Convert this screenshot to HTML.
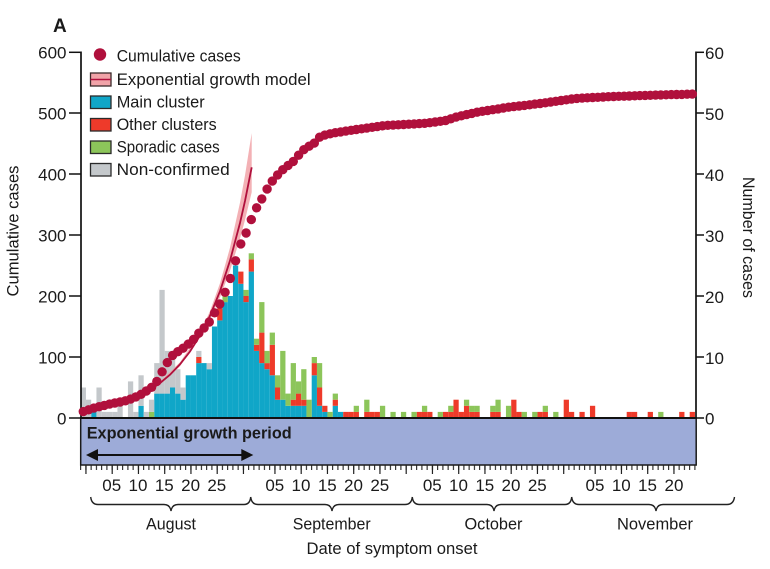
<!DOCTYPE html>
<html>
<head>
<meta charset="utf-8">
<style>
html,body{margin:0;padding:0;background:#fff;}
svg{display:block;}
text{font-family:"Liberation Sans",Arial,sans-serif;fill:#1a1a1a;}
</style>
</head>
<body>
<svg width="770" height="569" viewBox="0 0 770 569" xmlns="http://www.w3.org/2000/svg">
<defs>
<pattern id="tk" x="80.1" y="0" width="5.25" height="20" patternUnits="userSpaceOnUse">
<rect x="0" y="0" width="1.1" height="20" fill="#222"/>
</pattern>
</defs>
<rect width="770" height="569" fill="#fff"/>

<!-- bars -->
<g transform="translate(80.7,418) scale(5.25,-6.1)">
<g fill="#10a6c8">
<rect x="2" y="0" width="1" height="1"/><rect x="11" y="0" width="1" height="2"/>
<rect x="14" y="0" width="1" height="4"/><rect x="15" y="0" width="1" height="4"/>
<rect x="16" y="0" width="1" height="4"/><rect x="17" y="0" width="1" height="5"/>
<rect x="18" y="0" width="1" height="4"/><rect x="19" y="0" width="1" height="3"/>
<rect x="20" y="0" width="1" height="7"/><rect x="21" y="0" width="1" height="7"/>
<rect x="22" y="0" width="1" height="9"/><rect x="23" y="0" width="1" height="9"/>
<rect x="24" y="0" width="1" height="8"/><rect x="25" y="0" width="1" height="15"/>
<rect x="26" y="0" width="1" height="16"/><rect x="27" y="0" width="1" height="19"/>
<rect x="28" y="0" width="1" height="20"/><rect x="29" y="0" width="1" height="25"/>
<rect x="30" y="0" width="1" height="22"/><rect x="31" y="0" width="1" height="19"/>
<rect x="32" y="0" width="1" height="24"/><rect x="33" y="0" width="1" height="11"/>
<rect x="34" y="0" width="1" height="9"/><rect x="35" y="0" width="1" height="8"/>
<rect x="36" y="0" width="1" height="7"/><rect x="37" y="0" width="1" height="3"/>
<rect x="38" y="0" width="1" height="3"/><rect x="39" y="0" width="1" height="2"/>
<rect x="40" y="0" width="1" height="2"/><rect x="41" y="0" width="1" height="2"/>
<rect x="42" y="0" width="1" height="2"/><rect x="44" y="0" width="1" height="7"/>
<rect x="45" y="0" width="1" height="2"/><rect x="46" y="0" width="1" height="1"/>
<rect x="48" y="0" width="1" height="2"/><rect x="49" y="0" width="1" height="1"/>
</g>
<g fill="#ee3a2a">
<rect x="22" y="9" width="1" height="1"/><rect x="26" y="16" width="1" height="2"/>
<rect x="30" y="22" width="1" height="2"/><rect x="31" y="19" width="1" height="1"/>
<rect x="32" y="24" width="1" height="2"/><rect x="33" y="11" width="1" height="1"/>
<rect x="34" y="9" width="1" height="5"/><rect x="35" y="8" width="1" height="1"/>
<rect x="36" y="7" width="1" height="5"/><rect x="37" y="3" width="1" height="2"/>
<rect x="40" y="2" width="1" height="1"/><rect x="41" y="2" width="1" height="2"/>
<rect x="42" y="2" width="1" height="1"/><rect x="44" y="7" width="1" height="2"/>
<rect x="45" y="2" width="1" height="3"/><rect x="46" y="1" width="1" height="1"/>
<rect x="48" y="2" width="1" height="1"/><rect x="50" y="0" width="1" height="1"/>
<rect x="51" y="0" width="1" height="1"/><rect x="52" y="0" width="1" height="1"/>
<rect x="54" y="0" width="1" height="1"/><rect x="55" y="0" width="1" height="1"/>
<rect x="56" y="0" width="1" height="1"/><rect x="64" y="0" width="1" height="1"/>
<rect x="65" y="0" width="1" height="1"/><rect x="66" y="0" width="1" height="1"/>
<rect x="69" y="0" width="1" height="1"/><rect x="70" y="0" width="1" height="1"/>
<rect x="71" y="0" width="1" height="3"/><rect x="72" y="0" width="1" height="1"/>
<rect x="73" y="0" width="1" height="2"/><rect x="74" y="0" width="1" height="1"/>
<rect x="75" y="0" width="1" height="1"/><rect x="78" y="0" width="1" height="1"/>
<rect x="79" y="0" width="1" height="1"/><rect x="82" y="0" width="1" height="3"/>
<rect x="83" y="0" width="1" height="1"/><rect x="87" y="0" width="1" height="1"/>
<rect x="88" y="0" width="1" height="1"/><rect x="92" y="0" width="1" height="3"/>
<rect x="93" y="0" width="1" height="1"/><rect x="95" y="0" width="1" height="1"/>
<rect x="97" y="0" width="1" height="2"/><rect x="104" y="0" width="1" height="1"/>
<rect x="105" y="0" width="1" height="1"/><rect x="108" y="0" width="1" height="1"/>
<rect x="114" y="0" width="1" height="1"/><rect x="116" y="0" width="1" height="1"/>
</g>
<g fill="#8cc55a">
<rect x="13" y="0" width="1" height="1"/><rect x="26" y="18" width="1" height="1"/>
<rect x="27" y="19" width="1" height="1"/><rect x="31" y="20" width="1" height="1"/>
<rect x="32" y="26" width="1" height="1"/><rect x="33" y="12" width="1" height="1"/>
<rect x="34" y="14" width="1" height="5"/><rect x="35" y="9" width="1" height="2"/>
<rect x="36" y="12" width="1" height="2"/><rect x="37" y="5" width="1" height="2"/>
<rect x="38" y="3" width="1" height="8"/><rect x="39" y="2" width="1" height="2"/>
<rect x="40" y="3" width="1" height="6"/><rect x="41" y="4" width="1" height="2"/>
<rect x="42" y="3" width="1" height="5"/><rect x="43" y="0" width="1" height="3"/>
<rect x="44" y="9" width="1" height="1"/><rect x="45" y="5" width="1" height="4"/>
<rect x="47" y="0" width="1" height="1"/><rect x="48" y="3" width="1" height="1"/>
<rect x="52" y="1" width="1" height="1"/><rect x="54" y="1" width="1" height="2"/>
<rect x="57" y="0" width="1" height="2"/><rect x="59" y="0" width="1" height="1"/>
<rect x="61" y="0" width="1" height="1"/><rect x="63" y="0" width="1" height="1"/>
<rect x="65" y="1" width="1" height="1"/><rect x="68" y="0" width="1" height="1"/>
<rect x="70" y="1" width="1" height="1"/><rect x="73" y="2" width="1" height="1"/>
<rect x="74" y="1" width="1" height="1"/><rect x="75" y="1" width="1" height="1"/>
<rect x="78" y="1" width="1" height="1"/><rect x="79" y="1" width="1" height="2"/>
<rect x="81" y="0" width="1" height="2"/><rect x="84" y="0" width="1" height="1"/>
<rect x="86" y="0" width="1" height="1"/><rect x="88" y="1" width="1" height="1"/>
<rect x="90" y="0" width="1" height="1"/><rect x="110" y="0" width="1" height="1"/>
</g>
<g fill="#c4c8cb">
<rect x="0" y="0" width="1" height="5"/><rect x="1" y="0" width="1" height="3"/>
<rect x="2" y="1" width="1" height="1"/><rect x="3" y="0" width="1" height="5"/>
<rect x="4" y="0" width="1" height="1"/><rect x="5" y="0" width="1" height="1"/>
<rect x="6" y="0" width="1" height="1"/><rect x="7" y="0" width="1" height="2"/>
<rect x="9" y="0" width="1" height="6"/><rect x="10" y="0" width="1" height="1"/>
<rect x="11" y="2" width="1" height="5"/><rect x="12" y="0" width="1" height="1"/>
<rect x="13" y="1" width="1" height="2"/><rect x="14" y="4" width="1" height="5"/>
<rect x="15" y="4" width="1" height="17"/><rect x="16" y="4" width="1" height="7"/>
<rect x="17" y="5" width="1" height="6"/><rect x="18" y="4" width="1" height="4"/>
<rect x="19" y="3" width="1" height="2"/><rect x="22" y="10" width="1" height="1"/>
<rect x="24" y="8" width="1" height="1"/>
</g>
</g>

<!-- exponential band and line -->
<polygon fill="#f1a3a8" fill-opacity="0.85" points="80,410.3 100,406.9 120,401.7 140,393.8 160,381.6 180,362.2 200,332.9 210,311.1 220,283.3 230,247.8 240,202.6 245,175.4 251.7,133.1 251.7,192.3 245,220.0 240,238.5 230,270.7 220,297.4 210,319.4 200,337.5 180,366.3 160,384.6 140,396.8 120,404.7 100,409.9 80,413.3"/>
<polyline fill="none" stroke="#b0103c" stroke-width="1.8" points="80,411.8 90,410.3 100,408.4 110,406.1 120,403.2 130,399.7 140,395.3 150,389.8 160,383.1 170,374.7 180,364.3 190,351.5 200,335.5 210,315.7 220,291.2 230,260.7 240,223.0 245,200.9 251.7,167.3"/>

<!-- blue period box -->
<rect x="80.7" y="418" width="615.5" height="47" fill="#9dabd8" stroke="#1a1a1a" stroke-width="1.5"/>
<line x1="80" y1="418" x2="697" y2="418" stroke="#111" stroke-width="2"/>

<!-- axes -->
<line x1="81" y1="51.5" x2="81" y2="418" stroke="#111" stroke-width="1.7"/>
<line x1="696" y1="51.5" x2="696" y2="418" stroke="#111" stroke-width="1.7"/>
<g stroke="#111" stroke-width="1.5">
<line x1="69" y1="52.3" x2="81" y2="52.3"/><line x1="69" y1="113" x2="81" y2="113"/>
<line x1="69" y1="174" x2="81" y2="174"/><line x1="69" y1="235" x2="81" y2="235"/>
<line x1="69" y1="296" x2="81" y2="296"/><line x1="69" y1="357" x2="81" y2="357"/>
<line x1="69" y1="418" x2="81" y2="418"/>
<line x1="696" y1="52.3" x2="704" y2="52.3"/><line x1="696" y1="113" x2="704" y2="113"/>
<line x1="696" y1="174" x2="704" y2="174"/><line x1="696" y1="235" x2="704" y2="235"/>
<line x1="696" y1="296" x2="704" y2="296"/><line x1="696" y1="357" x2="704" y2="357"/>
<line x1="696" y1="418" x2="704" y2="418"/>
</g>
<g font-size="17" text-anchor="end">
<text x="66.5" y="58.5">600</text><text x="66.5" y="119.5">500</text>
<text x="66.5" y="180.5">400</text><text x="66.5" y="241.5">300</text>
<text x="66.5" y="302.5">200</text><text x="66.5" y="363.5">100</text>
<text x="66.5" y="424.5">0</text>
</g>
<g font-size="17">
<text x="705" y="59">60</text><text x="705" y="120">50</text>
<text x="705" y="181">40</text><text x="705" y="242">30</text>
<text x="705" y="303">20</text><text x="705" y="364">10</text>
<text x="705" y="424.5">0</text>
</g>
<text font-size="16.5" text-anchor="middle" transform="translate(18.3,231) rotate(-90)" textLength="131" lengthAdjust="spacingAndGlyphs">Cumulative cases</text>
<text font-size="16.5" text-anchor="middle" transform="translate(743,237.5) rotate(90)" textLength="121" lengthAdjust="spacingAndGlyphs">Number of cases</text>

<!-- bottom ticks -->
<rect x="80" y="465.5" width="616" height="4.5" fill="url(#tk)"/>
<path stroke="#222" stroke-width="1.2" fill="none" d="M85.95 465V474M112.2 465V474M138.45 465V474M164.7 465V474M190.95 465V474M217.2 465V474M243.45 465V474M274.95 465V474M301.2 465V474M327.45 465V474M353.7 465V474M379.95 465V474M406.2 465V474M432.45 465V474M458.7 465V474M484.95 465V474M511.2 465V474M537.45 465V474M563.7 465V474M595.2 465V474M621.45 465V474M647.7 465V474M673.95 465V474"/>
<g font-size="17" text-anchor="middle">
<text x="111.7" y="491">05</text><text x="138" y="491">10</text><text x="164.3" y="491">15</text><text x="190.6" y="491">20</text><text x="216.8" y="491">25</text>
<text x="274.8" y="491">05</text><text x="301" y="491">10</text><text x="327.3" y="491">15</text><text x="353.5" y="491">20</text><text x="379.8" y="491">25</text>
<text x="432.3" y="491">05</text><text x="458.5" y="491">10</text><text x="484.8" y="491">15</text><text x="511" y="491">20</text><text x="537.3" y="491">25</text>
<text x="595" y="491">05</text><text x="621.3" y="491">10</text><text x="647.5" y="491">15</text><text x="674" y="491">20</text>
</g>

<!-- braces -->
<g fill="none" stroke="#222" stroke-width="1.4">
<path d="M90.7 497 Q91.5 504.5 98 504.5 L164 504.5 Q170 504.5 171 511 Q172 504.5 178 504.5 L244 504.5 Q250 504.5 250.7 497"/>
<path d="M250.7 497 Q251.5 504.5 258 504.5 L325 504.5 Q331 504.5 332 511 Q333 504.5 339 504.5 L405 504.5 Q411.5 504.5 412.3 497"/>
<path d="M412.3 497 Q413 504.5 419.5 504.5 L487 504.5 Q493 504.5 494 511 Q495 504.5 501 504.5 L565 504.5 Q571 504.5 571.7 497"/>
<path d="M571.7 497 Q572.5 504.5 579 504.5 L649 504.5 Q655 504.5 656 511 Q657 504.5 663 504.5 L727 504.5 Q733.5 504.5 734.5 497"/>
</g>
<g font-size="16.5" text-anchor="middle">
<text x="171" y="529.5" textLength="50" lengthAdjust="spacingAndGlyphs">August</text>
<text x="331.7" y="529.5" textLength="78" lengthAdjust="spacingAndGlyphs">September</text>
<text x="493.5" y="529.5" textLength="58" lengthAdjust="spacingAndGlyphs">October</text>
<text x="655" y="529.5" textLength="76" lengthAdjust="spacingAndGlyphs">November</text>
<text x="392" y="554" textLength="171" lengthAdjust="spacingAndGlyphs">Date of symptom onset</text>
</g>

<!-- exponential growth period -->
<text x="86.7" y="438.3" font-size="17" font-weight="bold" textLength="205" lengthAdjust="spacingAndGlyphs">Exponential growth period</text>
<line x1="95" y1="455" x2="244" y2="455" stroke="#111" stroke-width="2"/>
<polygon points="86,455 98,449 98,461" fill="#111"/>
<polygon points="253.3,455 241.3,449 241.3,461" fill="#111"/>

<!-- cumulative dots -->
<g fill="#b0103c">
<circle cx="83.3" cy="411.6" r="4.7"/><circle cx="88.6" cy="409.8" r="4.7"/><circle cx="93.8" cy="408.1" r="4.7"/><circle cx="99.1" cy="406.7" r="4.7"/><circle cx="104.3" cy="405.4" r="4.7"/><circle cx="109.6" cy="404.1" r="4.7"/><circle cx="114.8" cy="403.0" r="4.7"/><circle cx="120.1" cy="402.0" r="4.7"/><circle cx="125.3" cy="400.8" r="4.7"/><circle cx="130.6" cy="399.1" r="4.7"/>
<circle cx="135.8" cy="396.9" r="4.7"/><circle cx="141.1" cy="394.3" r="4.7"/><circle cx="146.3" cy="391.0" r="4.7"/><circle cx="151.6" cy="387.3" r="4.7"/><circle cx="156.8" cy="381.4" r="4.7"/><circle cx="162.1" cy="371.8" r="4.7"/><circle cx="167.3" cy="362.6" r="4.7"/><circle cx="172.6" cy="355.4" r="4.7"/><circle cx="177.8" cy="351.7" r="4.7"/><circle cx="183.1" cy="348.2" r="4.7"/>
<circle cx="188.3" cy="344.1" r="4.7"/><circle cx="193.6" cy="339.3" r="4.7"/><circle cx="198.8" cy="333.2" r="4.7"/><circle cx="204.1" cy="327.9" r="4.7"/><circle cx="209.3" cy="322.0" r="4.7"/><circle cx="214.6" cy="312.8" r="4.7"/><circle cx="219.8" cy="304.0" r="4.7"/><circle cx="225.1" cy="292.3" r="4.7"/><circle cx="230.3" cy="278.4" r="4.7"/><circle cx="235.6" cy="260.8" r="4.7"/>
<circle cx="240.8" cy="243.9" r="4.7"/><circle cx="246.1" cy="233.0" r="4.7"/><circle cx="251.3" cy="219.6" r="4.7"/><circle cx="256.6" cy="207.8" r="4.7"/><circle cx="261.8" cy="198.9" r="4.7"/><circle cx="267.1" cy="189.1" r="4.7"/><circle cx="272.3" cy="181.1" r="4.7"/><circle cx="277.6" cy="174.9" r="4.7"/><circle cx="282.8" cy="169.7" r="4.7"/><circle cx="288.1" cy="165.4" r="4.7"/>
<circle cx="293.3" cy="161.4" r="4.7"/><circle cx="298.6" cy="155.2" r="4.7"/><circle cx="303.8" cy="149.7" r="4.7"/><circle cx="309.1" cy="146.2" r="4.7"/><circle cx="314.3" cy="143.1" r="4.7"/><circle cx="319.6" cy="137.2" r="4.7"/><circle cx="324.8" cy="135.1" r="4.7"/><circle cx="330.1" cy="133.8" r="4.7"/><circle cx="335.3" cy="132.7" r="4.7"/><circle cx="340.6" cy="131.9" r="4.7"/>
<circle cx="345.8" cy="131.1" r="4.7"/><circle cx="351.1" cy="130.3" r="4.7"/><circle cx="356.3" cy="129.5" r="4.7"/><circle cx="361.6" cy="128.8" r="4.7"/><circle cx="366.8" cy="128.1" r="4.7"/><circle cx="372.1" cy="127.3" r="4.7"/><circle cx="377.3" cy="126.6" r="4.7"/><circle cx="382.6" cy="125.8" r="4.7"/><circle cx="387.8" cy="125.3" r="4.7"/><circle cx="393.1" cy="125.1" r="4.7"/>
<circle cx="398.3" cy="124.8" r="4.7"/><circle cx="403.6" cy="124.5" r="4.7"/><circle cx="408.8" cy="124.2" r="4.7"/><circle cx="414.1" cy="123.9" r="4.7"/><circle cx="419.3" cy="123.6" r="4.7"/><circle cx="424.6" cy="123.3" r="4.7"/><circle cx="429.8" cy="122.7" r="4.7"/><circle cx="435.1" cy="122.0" r="4.7"/><circle cx="440.3" cy="121.3" r="4.7"/><circle cx="445.6" cy="120.5" r="4.7"/>
<circle cx="450.8" cy="118.8" r="4.7"/><circle cx="456.1" cy="117.1" r="4.7"/><circle cx="461.3" cy="115.8" r="4.7"/><circle cx="466.6" cy="114.6" r="4.7"/><circle cx="471.8" cy="113.4" r="4.7"/><circle cx="477.1" cy="112.2" r="4.7"/><circle cx="482.3" cy="111.3" r="4.7"/><circle cx="487.6" cy="110.5" r="4.7"/><circle cx="492.8" cy="109.7" r="4.7"/><circle cx="498.1" cy="108.9" r="4.7"/>
<circle cx="503.3" cy="108.0" r="4.7"/><circle cx="508.6" cy="107.2" r="4.7"/><circle cx="513.8" cy="106.6" r="4.7"/><circle cx="519.1" cy="106.0" r="4.7"/><circle cx="524.3" cy="105.4" r="4.7"/><circle cx="529.6" cy="104.8" r="4.7"/><circle cx="534.8" cy="104.1" r="4.7"/><circle cx="540.1" cy="103.5" r="4.7"/><circle cx="545.3" cy="102.8" r="4.7"/><circle cx="550.6" cy="102.0" r="4.7"/>
<circle cx="555.8" cy="101.3" r="4.7"/><circle cx="561.1" cy="100.5" r="4.7"/><circle cx="566.3" cy="99.8" r="4.7"/><circle cx="571.6" cy="99.0" r="4.7"/><circle cx="576.8" cy="98.4" r="4.7"/><circle cx="582.1" cy="98.1" r="4.7"/><circle cx="587.3" cy="97.8" r="4.7"/><circle cx="592.6" cy="97.5" r="4.7"/><circle cx="597.8" cy="97.3" r="4.7"/><circle cx="603.1" cy="97.0" r="4.7"/>
<circle cx="608.3" cy="96.7" r="4.7"/><circle cx="613.6" cy="96.5" r="4.7"/><circle cx="618.8" cy="96.3" r="4.7"/><circle cx="624.1" cy="96.2" r="4.7"/><circle cx="629.3" cy="96.0" r="4.7"/><circle cx="634.6" cy="95.8" r="4.7"/><circle cx="639.8" cy="95.6" r="4.7"/><circle cx="645.1" cy="95.4" r="4.7"/><circle cx="650.3" cy="95.3" r="4.7"/><circle cx="655.6" cy="95.1" r="4.7"/>
<circle cx="660.8" cy="94.9" r="4.7"/><circle cx="666.1" cy="94.8" r="4.7"/><circle cx="671.3" cy="94.6" r="4.7"/><circle cx="676.6" cy="94.5" r="4.7"/><circle cx="681.8" cy="94.4" r="4.7"/><circle cx="687.1" cy="94.2" r="4.7"/><circle cx="692.3" cy="94.1" r="4.7"/>
</g>

<!-- legend -->
<circle cx="100" cy="54.5" r="6.2" fill="#b0103c"/>
<rect x="90.5" y="73" width="20.5" height="13" fill="#f1a3a8" stroke="#3a2a2a" stroke-width="1.3"/>
<line x1="90.5" y1="79.5" x2="111" y2="79.5" stroke="#b0103c" stroke-width="1.6"/>
<rect x="90.5" y="96" width="20.5" height="12.5" fill="#10a6c8" stroke="#2a2a2a" stroke-width="1.3"/>
<rect x="90.5" y="118.5" width="20.5" height="12.5" fill="#ee3a2a" stroke="#2a2a2a" stroke-width="1.3"/>
<rect x="90.5" y="141" width="20.5" height="12.5" fill="#8cc55a" stroke="#2a2a2a" stroke-width="1.3"/>
<rect x="90.5" y="163.5" width="20.5" height="12.5" fill="#c4c8cb" stroke="#2a2a2a" stroke-width="1.3"/>
<g font-size="16.5">
<text x="116.7" y="61.7" textLength="124" lengthAdjust="spacingAndGlyphs">Cumulative cases</text>
<text x="116.7" y="84.8" textLength="194" lengthAdjust="spacingAndGlyphs">Exponential growth model</text>
<text x="116.7" y="107.4" textLength="88" lengthAdjust="spacingAndGlyphs">Main cluster</text>
<text x="116.7" y="130" textLength="100" lengthAdjust="spacingAndGlyphs">Other clusters</text>
<text x="116.7" y="152.6" textLength="103" lengthAdjust="spacingAndGlyphs">Sporadic cases</text>
<text x="116.7" y="175" textLength="113" lengthAdjust="spacingAndGlyphs">Non-confirmed</text>
</g>

<text x="53" y="32" font-size="19" font-weight="bold">A</text>
</svg>
</body>
</html>
